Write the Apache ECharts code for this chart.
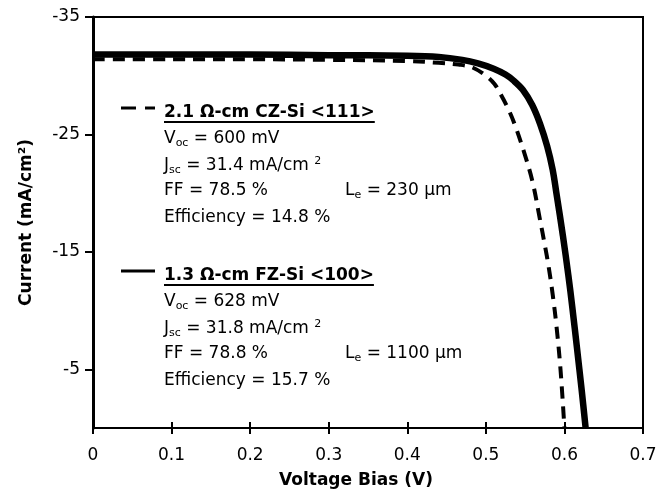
<!DOCTYPE html>
<html>
<head>
<meta charset="utf-8">
<script src="https://cdn.jsdelivr.net/npm/echarts@6/dist/echarts.min.js"></script>
<style>
html,body{margin:0;padding:0;background:#fff;}
#chart{width:660px;height:495px;}
</style>
</head>
<body>
<div id="chart"></div>
<script>
// ---- data ----
const xTicks = [0, 0.1, 0.2, 0.3, 0.4, 0.5, 0.6, 0.7];
const yTicks = [-35, -25, -15, -5];

// 2.1 ohm-cm CZ-Si <111> (dashed)
const czV = [0, 0.1, 0.2, 0.3, 0.4, 0.44, 0.465, 0.483, 0.501, 0.511, 0.519, 0.529, 0.537, 0.55, 0.56, 0.569, 0.575, 0.58, 0.585, 0.59, 0.595, 0.6];
const czJ = [-31.4, -31.4, -31.4, -31.35, -31.25, -31.1, -30.95, -30.7, -29.95, -29.3, -28.4, -27.1, -25.8, -23.2, -20.8, -17.7, -15.6, -13.7, -11.4, -8.6, -5.0, 0];

// 1.3 ohm-cm FZ-Si <100> (solid)
const fzV = [0, 0.1, 0.2, 0.3, 0.4, 0.44, 0.47, 0.49, 0.51, 0.525, 0.535, 0.547, 0.559, 0.569, 0.578, 0.585, 0.59, 0.598, 0.605, 0.61, 0.616, 0.622, 0.627];
const fzJ = [-31.8, -31.8, -31.8, -31.75, -31.7, -31.6, -31.35, -31.05, -30.6, -30.1, -29.6, -28.8, -27.5, -25.9, -24.0, -22.0, -19.9, -16.4, -13.0, -10.3, -6.8, -3.2, 0];

// annotation values
const cellNames = ['2.1 Ω-cm CZ-Si <111>', '1.3 Ω-cm FZ-Si <100>'];
const vocValues = [600, 628];
const jscValues = [31.4, 31.8];
const ffValues = [78.5, 78.8];
const effValues = [14.8, 15.7];
const leValues = [230, 1100];

// ---- chart ----
const FONT = 'DejaVu Sans';
const FS = 17;
const chart = echarts.init(document.getElementById('chart'));

const rich = {
  sub: { fontSize: 11, lineHeight: 14, verticalAlign: 'bottom', fontFamily: FONT, fill: '#000' },
  sup: { fontSize: 11, lineHeight: 14, verticalAlign: 'top', fontFamily: FONT, fill: '#000' }
};

function measure(text, weight) {
  const c = document.createElement('canvas').getContext('2d');
  c.font = (weight || 'normal') + ' ' + FS + 'px "' + FONT + '"';
  return c.measureText(text).width;
}

function textEl(x, y, text, bold) {
  return {
    type: 'text', x: x, y: y, z: 100,
    style: {
      text: text, rich: rich,
      fontFamily: FONT, fontSize: FS, fontWeight: bold ? 'bold' : 'normal',
      lineHeight: 20, fill: '#000', align: 'left', verticalAlign: 'middle'
    }
  };
}

const graphics = [];
const blockOffsets = [0, 163];
const rowY = [112.5, 139, 166, 191, 217.5];
const textX = 164, leX = 345;
for (let b = 0; b < 2; b++) {
  const o = blockOffsets[b];
  graphics.push({
    type: 'line', z: 100,
    shape: { x1: 121, y1: 108 + o, x2: 155, y2: 108 + o },
    style: { stroke: '#000', lineWidth: 3, lineDash: b === 0 ? [15, 9] : null, lineCap: 'butt' }
  });
  graphics.push(textEl(textX, rowY[0] + o, cellNames[b], true));
  const w = measure(cellNames[b], 'bold');
  graphics.push({
    type: 'line', z: 100,
    shape: { x1: textX, y1: 122 + o, x2: textX + w, y2: 122 + o },
    style: { stroke: '#000', lineWidth: 2 }
  });
  graphics.push(textEl(textX, rowY[1] + o, 'V{sub|oc} = ' + vocValues[b] + ' mV'));
  graphics.push(textEl(textX, rowY[2] + o, 'J{sub|sc} = ' + jscValues[b].toFixed(1) + ' mA/cm {sup|2}'));
  graphics.push(textEl(textX, rowY[3] + o, 'FF = ' + ffValues[b].toFixed(1) + ' %'));
  graphics.push(textEl(leX, rowY[3] + o, 'L{sub|e} = ' + leValues[b] + ' μm'));
  graphics.push(textEl(textX, rowY[4] + o, 'Efficiency = ' + effValues[b].toFixed(1) + ' %'));
}

const option = {
  animation: false,
  backgroundColor: '#fff',
  textStyle: { fontFamily: FONT },
  grid: { left: 93, right: 17, top: 17, bottom: 67, show: true, borderColor: '#000', borderWidth: 2, backgroundColor: 'transparent' },
  xAxis: [{
    type: 'value', min: 0, max: 0.7, interval: 0.1,
    name: 'Voltage Bias (V)', nameLocation: 'middle', nameGap: 44,
    nameTextStyle: { fontFamily: FONT, fontSize: FS, fontWeight: 'bold', color: '#000', padding: [0, 24, 0, 0] },
    axisLine: { show: true, onZero: false, lineStyle: { color: '#000', width: 2 } },
    axisTick: { show: true, inside: false, length: 6, lineStyle: { color: '#000', width: 2 }, customValues: xTicks },
    axisLabel: { color: '#000', fontFamily: FONT, fontSize: FS, margin: 19, customValues: xTicks },
    splitLine: { show: false }
  }, {
    type: 'value', min: 0, max: 0.7, interval: 0.1, position: 'bottom',
    axisLine: { show: false },
    axisTick: { show: true, inside: true, length: 6, lineStyle: { color: '#000', width: 2 }, customValues: xTicks },
    axisLabel: { show: false },
    splitLine: { show: false }
  }],
  yAxis: {
    type: 'value', min: -35, max: 0, interval: 5, inverse: true,
    name: 'Current (mA/cm²)', nameLocation: 'middle', nameGap: 58,
    nameTextStyle: { fontFamily: FONT, fontSize: FS, fontWeight: 'bold', color: '#000' },
    axisLine: { show: true, onZero: false, lineStyle: { color: '#000', width: 3 } },
    axisTick: { show: true, inside: false, length: 8, lineStyle: { color: '#000', width: 2 }, customValues: yTicks },
    axisLabel: { color: '#000', fontFamily: FONT, fontSize: FS, margin: 13, customValues: yTicks },
    splitLine: { show: false }
  },
  series: [{
    name: cellNames[1], type: 'line', xAxisIndex: 0,
    data: fzV.map((v, i) => [v, fzJ[i]]),
    symbol: 'none', smooth: 0.35,
    lineStyle: { color: '#000', width: 6.5, type: 'solid' }, z: 3
  }, {
    name: cellNames[0], type: 'line', xAxisIndex: 0,
    data: czV.map((v, i) => [v, czJ[i]]),
    symbol: 'none', smooth: 0.35,
    lineStyle: { color: '#000', width: 4, type: [12, 8], cap: 'butt' }, z: 4
  }],
  graphic: graphics
};
chart.setOption(option);
</script>
</body>
</html>
